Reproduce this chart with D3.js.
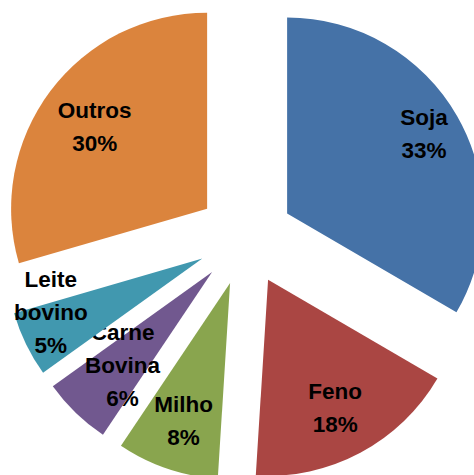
<!DOCTYPE html>
<html>
<head>
<meta charset="utf-8">
<script src="https://cdn.jsdelivr.net/npm/d3@7"></script>
<style>
  html, body { margin: 0; padding: 0; background: #ffffff; }
  svg { display: block; }
</style>
</head>
<body>
<svg id="chart" width="474" height="475"></svg>
<script>
// ---- data ----
const categories = ["Soja", "Feno", "Milho", "Carne Bovina", "Leite bovino", "Outros"];
const labelLines = [["Soja"], ["Feno"], ["Milho"], ["Carne", "Bovina"], ["Leite", "bovino"], ["Outros"]];
const values = [33.4, 17.6, 8.4, 5.7, 5.4, 29.5];
const percentLabels = ["33%", "18%", "8%", "6%", "5%", "30%"];
const colors = ["#4572A7", "#AA4643", "#89A54E", "#71588F", "#4198AF", "#DB843D"];

// ---- layout ----
const W = 474, H = 475;
const cx = 245.5, cy = 237.5;
const R = 196;
const explode = 48;
const lineH = 33;
// label placement: [distance as fraction of radius, angular offset in degrees]
const labelPlace = {
  "Soja": [0.81, -0.5],
  "Feno": [0.735, 0.3],
  "Milho": [0.74, 0],
  "Carne Bovina": [0.66, -0.3],
  "Leite bovino": [0.82, 6.5],
  "Outros": [0.71, -0.8]
};

const svg = d3.select("#chart");
const pie = d3.pie().sort(null).value(d => d.value).startAngle(0).endAngle(2 * Math.PI);
const data = categories.map((c, i) => ({
  name: c, value: values[i], lines: labelLines[i].concat([percentLabels[i]]), color: colors[i]
}));
const arcs = pie(data);
const arc = d3.arc().innerRadius(0).outerRadius(R);

const g = svg.append("g").attr("transform", `translate(${cx},${cy})`);

const slices = g.selectAll("g.slice").data(arcs).join("g")
  .attr("class", "slice")
  .attr("transform", d => {
    const a = (d.startAngle + d.endAngle) / 2;
    return `translate(${explode * Math.sin(a)},${-explode * Math.cos(a)})`;
  });

slices.append("path")
  .attr("d", arc)
  .attr("fill", d => d.data.color);

slices.each(function(d) {
  const sel = d3.select(this);
  const place = labelPlace[d.data.name];
  const a = (d.startAngle + d.endAngle) / 2 + place[1] * Math.PI / 180;
  const dist = place[0] * R;
  const x = dist * Math.sin(a);
  const y = -dist * Math.cos(a);
  const n = d.data.lines.length;
  const text = sel.append("text")
    .attr("x", x)
    .attr("y", y - (n - 1) * lineH / 2 + 8)
    .attr("text-anchor", "middle")
    .attr("font-family", "'Liberation Sans', Arial, sans-serif")
    .attr("font-weight", "bold")
    .attr("font-size", "22.5px")
    .attr("fill", "#000000");
  d.data.lines.forEach((ln, i) => {
    text.append("tspan")
      .attr("x", x)
      .attr("dy", i === 0 ? 0 : lineH)
      .text(ln);
  });
});
</script>
</body>
</html>
